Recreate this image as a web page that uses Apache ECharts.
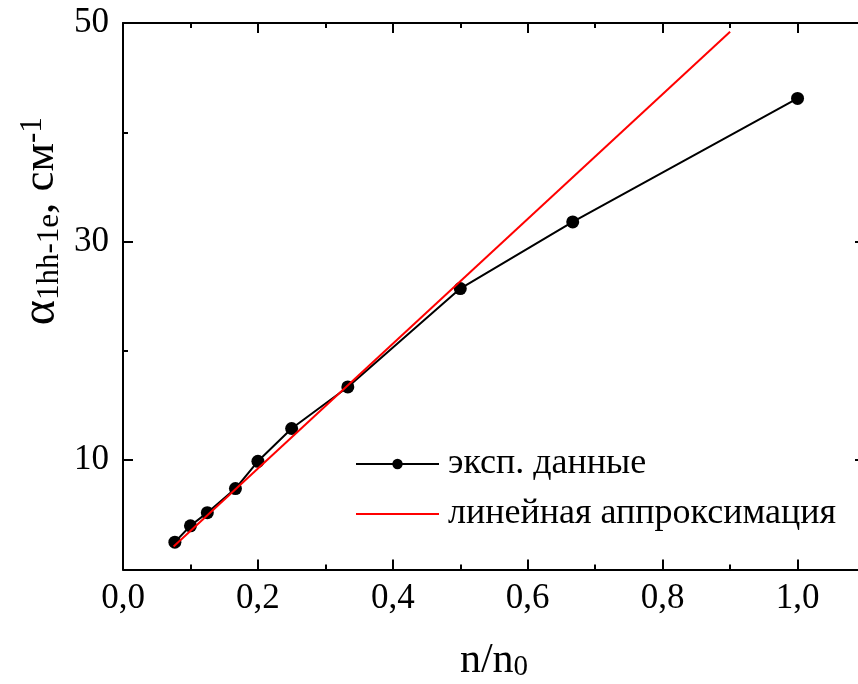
<!DOCTYPE html>
<html>
<head>
<meta charset="utf-8">
<script src="https://cdn.jsdelivr.net/npm/echarts@6/dist/echarts.min.js"></script>
<style>
html,body{margin:0;padding:0;background:#fff;}
#chart{width:858px;height:684px;}
</style>
</head>
<body>
<div id="chart"></div>
<script>
// ---- data ----
const nRatio   = [0.0769, 0.1, 0.125, 0.1667, 0.2, 0.25, 0.3333, 0.5, 0.6667, 1.0];
const alphaExp = [2.5, 4.0, 5.2, 7.4, 9.9, 12.9, 16.7, 25.7, 31.8, 43.1];
const fitX = [0.075, 0.9];
const fitY = [2.1, 49.2];
const xMajorTicks = [0, 0.2, 0.4, 0.6, 0.8, 1.0];
const xMinorTicks = [0.1, 0.3, 0.5, 0.7, 0.9];
const yMajorTicks = [10, 30, 50];
const yMinorTicks = [20, 40];
const seriesNames = ['эксп. данные', 'линейная аппроксимация'];

const FONT = '"Liberation Serif", "Times New Roman", serif';
const INK = '#000';

const expData = nRatio.map((x, i) => [x, alphaExp[i]]);
const fitData = fitX.map((x, i) => [x, fitY[i]]);

const richX = {
  m: {fontFamily: FONT, fontSize: 42, lineHeight: 42, color: INK, verticalAlign: 'middle'},
  s: {fontFamily: FONT, fontSize: 29, lineHeight: 29, color: INK, verticalAlign: 'bottom', padding: [26, 0, 0, 0]}
};
const richY = {
  m: {fontFamily: FONT, fontSize: 45, lineHeight: 45, color: INK, verticalAlign: 'middle'},
  a: {fontFamily: FONT, fontSize: 48, lineHeight: 48, color: INK, verticalAlign: 'middle'},
  s: {fontFamily: FONT, fontSize: 31, lineHeight: 31, color: INK, verticalAlign: 'bottom', padding: [26, 0, 0, 0]},
  p: {fontFamily: FONT, fontSize: 31, lineHeight: 31, color: INK, verticalAlign: 'top', padding: [0, 0, 26, 0]}
};

function xAxisDef(pos, ticks, len, withLabels, withLine) {
  return {
    type: 'value', position: pos, min: 0, max: 1.1,
    splitLine: {show: false},
    axisLine: {show: withLine, onZero: false, lineStyle: {color: INK, width: 2}},
    axisTick: {show: true, inside: true, length: len, customValues: ticks, lineStyle: {color: INK, width: 2}},
    axisLabel: withLabels ? {
      show: true, customValues: ticks, margin: 12, color: INK, fontFamily: FONT, fontSize: 35,
      formatter: v => v.toFixed(1).replace('.', ',')
    } : {show: false}
  };
}
function yAxisDef(pos, ticks, len, withLabels, withLine) {
  return {
    type: 'value', position: pos, min: 0, max: 50,
    splitLine: {show: false},
    axisLine: {show: withLine, onZero: false, lineStyle: {color: INK, width: 2}},
    axisTick: {show: true, inside: true, length: len, customValues: ticks, lineStyle: {color: INK, width: 2}},
    axisLabel: withLabels ? {
      show: true, customValues: ticks, margin: 14, color: INK, fontFamily: FONT, fontSize: 35
    } : {show: false}
  };
}

const xBottom = xAxisDef('bottom', xMajorTicks, 10, true, true);
xBottom.name = '{m|n/n}{s|0}';
xBottom.nameLocation = 'middle';
xBottom.nameGap = 70;
xBottom.nameTextStyle = {rich: richX};

const yLeft = yAxisDef('left', yMajorTicks, 10, true, true);
yLeft.name = '{a|α}{s|1hh-1e}{m|, см}{p|-1}';
yLeft.nameLocation = 'middle';
yLeft.nameGap = 58;
yLeft.nameMoveOverlap = false;
yLeft.nameRotate = 90;
yLeft.nameTextStyle = {rich: richY, padding: [0, 0, 0, 150]};

const option = {
  animation: false,
  backgroundColor: '#fff',
  grid: {left: 123, width: 742, top: 23, bottom: 114.5, containLabel: false, outerBoundsMode: 'none'},
  legend: {
    orient: 'vertical', left: 355, top: 446, padding: 0,
    itemWidth: 83, itemHeight: 13, itemGap: 14,
    data: seriesNames,
    textStyle: {fontFamily: FONT, fontSize: 36, color: INK, lineHeight: 32, padding: [0, 0, 0, 4]}
  },
  xAxis: [
    xBottom,
    xAxisDef('bottom', xMinorTicks, 5, false, false),
    xAxisDef('top', xMajorTicks, 10, false, true),
    xAxisDef('top', xMinorTicks, 5, false, false)
  ],
  yAxis: [
    yLeft,
    yAxisDef('left', yMinorTicks, 5, false, false),
    yAxisDef('right', yMajorTicks, 10, false, false)
  ],
  series: [
    {
      name: seriesNames[0], type: 'line', xAxisIndex: 0, yAxisIndex: 0,
      data: expData, symbol: 'circle', symbolSize: 13, showSymbol: true,
      itemStyle: {color: INK}, lineStyle: {color: INK, width: 2}, z: 2
    },
    {
      name: seriesNames[1], type: 'line', xAxisIndex: 0, yAxisIndex: 0,
      data: fitData, symbol: 'none', showSymbol: false,
      itemStyle: {color: '#ff0000', opacity: 0}, lineStyle: {color: '#ff0000', width: 2, opacity: 1}, z: 3
    }
  ]
};

const chart = echarts.init(document.getElementById('chart'), null, {renderer: 'canvas'});
chart.setOption(option);
</script>
</body>
</html>
